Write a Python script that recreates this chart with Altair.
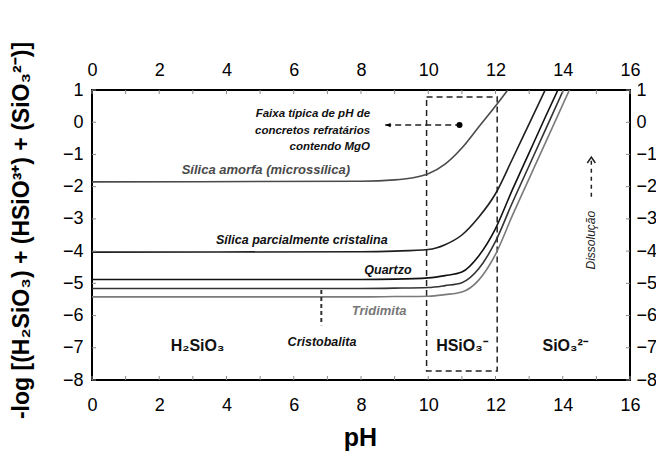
import altair as alt
import pandas as pd

# ---- solubility curves (pH, log concentration) ----
ph_amorfa  = [0, 8, 9, 9.5, 10, 10.5, 11, 11.5, 12, 12.4]
log_amorfa = [-1.85, -1.83, -1.79, -1.73, -1.6, -1.3, -0.8, -0.15, 0.5, 1.05]

ph_parcial  = [0, 8, 9, 10, 10.5, 11, 11.5, 12, 12.5, 13, 13.5]
log_parcial = [-4.03, -4.02, -4.0, -3.95, -3.8, -3.5, -2.95, -2.22, -1.15, -0.05, 1.05]

ph_quartzo  = [0, 8, 9, 10, 10.5, 11, 11.5, 12, 12.5, 13, 13.5, 13.9]
log_quartzo = [-4.88, -4.88, -4.87, -4.83, -4.76, -4.65, -4.15, -3.3, -2.1, -0.95, 0.2, 1.1]

ph_cristo  = [0, 8, 9, 10, 10.5, 11, 11.5, 12, 12.5, 13, 13.5, 14.05]
log_cristo = [-5.16, -5.16, -5.15, -5.13, -5.07, -4.98, -4.55, -3.7, -2.5, -1.35, -0.2, 1.07]

ph_tridi  = [0, 8, 9, 10, 10.5, 11, 11.5, 12, 12.5, 13, 13.5, 14.25]
log_tridi = [-5.42, -5.42, -5.41, -5.4, -5.35, -5.27, -4.9, -4.1, -2.9, -1.75, -0.6, 1.12]

curve_names  = ["amorfa", "parcial", "quartzo", "cristobalita", "tridimita"]
curve_colors = ["#4a4a4a", "#1e1e1e", "#111111", "#333333", "#7a7a7a"]

# ---- annotations ----
label_text = ["Sílica amorfa (microssílica)", "Sílica parcialmente cristalina",
              "Quartzo", "Tridimita", "Cristobalita"]
label_ph   = [5.17, 6.24, 8.8, 8.54, 6.84]
label_log  = [-1.48, -3.66, -4.59, -5.85, -6.81]

species_text = ["H₂SiO₃", "HSiO₃⁻", "SiO₃²⁻"]
species_ph   = [3.14, 11.0, 14.07]
species_log  = [-6.94, -6.94, -6.94]

faixa_text = ["Faixa típica de pH de", "concretos refratários", "contendo MgO"]
faixa_ph   = [8.27, 8.27, 8.27]
faixa_log  = [0.25, -0.27, -0.78]

box_ph  = [9.95, 12.05]
box_log = [-7.72, 0.78]

faixa_arrow_ph  = [8.72, 10.93]
faixa_arrow_log = -0.09

cristo_ptr_ph  = 6.82
cristo_ptr_log = [-5.21, -6.3]

dissol_ph  = 14.85
dissol_log = [-2.31, -1.12]
dissol_text_log = -3.66

x_ticks = list(range(0, 17))
y_ticks = list(range(-8, 2))
x_labels = list(range(0, 17, 2))

FONT = "Liberation Sans"
X = alt.Scale(domain=[0, 16], nice=False, zero=False)
Y = alt.Scale(domain=[-8, 1], nice=False, zero=False)
W, H = 538, 290

rows = []
for name, xs, ys in [("amorfa", ph_amorfa, log_amorfa), ("parcial", ph_parcial, log_parcial),
                     ("quartzo", ph_quartzo, log_quartzo), ("cristobalita", ph_cristo, log_cristo),
                     ("tridimita", ph_tridi, log_tridi)]:
    for a, b in zip(xs, ys):
        rows.append({"curva": name, "pH": a, "logC": b})
df = pd.DataFrame(rows)

common = dict(labelFont=FONT, labelFontSize=18, labelColor="black", ticks=False, tickSize=0,
              domain=False, grid=False, labelFlush=False, labelOverlap=False)

lines = alt.Chart(df).mark_line(clip=True, strokeWidth=1.6, interpolate="monotone").encode(
    x=alt.X("pH:Q", scale=X, axis=alt.Axis(orient="bottom", values=x_labels, format="d",
            labelPadding=16, title="pH", titleFont=FONT, titleFontSize=25, titleFontWeight="bold",
            titleColor="black", titleX=268, titleY=65, titleBaseline="alphabetic", **common)),
    y=alt.Y("logC:Q", scale=Y, axis=alt.Axis(orient="left", values=y_ticks, format="d",
            labelPadding=9, title="-log [(H₂SiO₃) + (HSiO³⁺) + (SiO₃²⁻)]", titleFont=FONT,
            titleFontSize=23, titleFontWeight="bold", titleColor="black", titleAngle=270,
            titleX=-64, titleY=140, titleAlign="center", titleBaseline="alphabetic", **common)),
    color=alt.Color("curva:N", scale=alt.Scale(domain=curve_names, range=curve_colors), legend=None),
)

# inward ticks
xt = pd.DataFrame({"t": x_ticks})
yt = pd.DataFrame({"t": y_ticks})
tick_style = dict(color="#8a8a8a", strokeWidth=1)
top_ticks = alt.Chart(xt).mark_rule(**tick_style).encode(
    x=alt.X("t:Q", scale=X, axis=alt.Axis(orient="top", values=x_labels, format="d", labelPadding=11,
            title=None, **common)),
    y=alt.value(0), y2=alt.value(4))
bot_ticks = alt.Chart(xt).mark_rule(**tick_style).encode(
    x=alt.X("t:Q", scale=X, axis=None), y=alt.value(H), y2=alt.value(H - 4))
left_ticks = alt.Chart(yt).mark_rule(**tick_style).encode(
    y=alt.Y("t:Q", scale=Y, axis=None), x=alt.value(0), x2=alt.value(4))
right_ticks = alt.Chart(yt).mark_rule(**tick_style).encode(
    y=alt.Y("t:Q", scale=Y, axis=alt.Axis(orient="right", values=y_ticks, format="d", labelPadding=6,
            title=None, **common)),
    x=alt.value(W), x2=alt.value(W - 4))

# dashed box
box = alt.Chart(pd.DataFrame({"x1": [box_ph[0]], "x2": [box_ph[1]], "y1": [box_log[0]], "y2": [box_log[1]]})
).mark_rect(fillOpacity=0, stroke="#222222", strokeWidth=1.5, strokeDash=[6, 4]).encode(
    x=alt.X("x1:Q", scale=X, axis=None), x2="x2:Q",
    y=alt.Y("y1:Q", scale=Y, axis=None), y2="y2:Q")

# faixa arrow
fa = pd.DataFrame({"x1": [faixa_arrow_ph[0]], "x2": [faixa_arrow_ph[1]], "y": [faixa_arrow_log]})
fa_line = alt.Chart(fa).mark_rule(color="#222222", strokeWidth=1.5, strokeDash=[6, 4]).encode(
    x=alt.X("x1:Q", scale=X, axis=None), x2="x2:Q", y=alt.Y("y:Q", scale=Y, axis=None))
fa_dot = alt.Chart(fa).mark_point(shape="circle", filled=True, size=36, color="black", opacity=1).encode(
    x=alt.X("x2:Q", scale=X, axis=None), y=alt.Y("y:Q", scale=Y, axis=None))
fa_head = alt.Chart(fa).mark_point(shape="M0,0L2,-0.8L2,0.8Z", filled=True, size=30, color="black",
                                   opacity=1).encode(
    x=alt.X("x1:Q", scale=X, axis=None), y=alt.Y("y:Q", scale=Y, axis=None))

# cristobalita pointer
cp = pd.DataFrame({"x": [cristo_ptr_ph], "y1": [cristo_ptr_log[0]], "y2": [cristo_ptr_log[1]]})
cp_line = alt.Chart(cp).mark_rule(color="#333333", strokeWidth=2, strokeDash=[4, 3]).encode(
    x=alt.X("x:Q", scale=X, axis=None), y=alt.Y("y1:Q", scale=Y, axis=None), y2="y2:Q")

# dissolucao arrow
da = pd.DataFrame({"x": [dissol_ph], "y1": [dissol_log[0]], "y2": [dissol_log[1]], "ytip": [dissol_log[1] + 0.04],
                   "yt": [dissol_text_log], "t": ["Dissolução"]})
da_line = alt.Chart(da).mark_rule(color="#222222", strokeWidth=1.5, strokeDash=[4, 4]).encode(
    x=alt.X("x:Q", scale=X, axis=None), y=alt.Y("y1:Q", scale=Y, axis=None), y2="y2:Q")
da_head = alt.Chart(da).mark_point(shape="M-1,1.5L0,0L1,1.5", filled=False, size=64, color="#222222",
                                   strokeWidth=1.5, opacity=1).encode(
    x=alt.X("x:Q", scale=X, axis=None), y=alt.Y("ytip:Q", scale=Y, axis=None))
da_text = alt.Chart(da).mark_text(font=FONT, fontSize=12, fontStyle="italic", angle=270,
                                  color="#222222", align="center", baseline="middle").encode(
    x=alt.X("x:Q", scale=X, axis=None), y=alt.Y("yt:Q", scale=Y, axis=None), text="t:N")

def text_layer(xs, ys, ts, **kw):
    d = pd.DataFrame({"x": xs, "y": ys, "t": ts})
    return alt.Chart(d).mark_text(font=FONT, **kw).encode(
        x=alt.X("x:Q", scale=X, axis=None), y=alt.Y("y:Q", scale=Y, axis=None), text="t:N")

t_faixa = text_layer(faixa_ph, faixa_log, faixa_text, fontSize=11.5, fontStyle="italic",
                     fontWeight="bold", align="right", baseline="middle", color="#111111")
t_amorfa = text_layer(label_ph[:1], label_log[:1], label_text[:1], fontSize=13, fontStyle="italic",
                      fontWeight="bold", align="center", baseline="middle", color="#4a4a4a")
t_bold = text_layer([label_ph[1], label_ph[2], label_ph[4]], [label_log[1], label_log[2], label_log[4]],
                    [label_text[1], label_text[2], label_text[4]], fontSize=12.5, fontStyle="italic",
                    fontWeight="bold", align="center", baseline="middle", color="#111111")
t_tridi = text_layer(label_ph[3:4], label_log[3:4], label_text[3:4], fontSize=13, fontStyle="italic",
                     fontWeight="bold", align="center", baseline="middle", color="#777777")
t_species = text_layer(species_ph, species_log, species_text, fontSize=16, fontWeight="bold",
                       align="center", baseline="middle", color="#111111")

chart = alt.layer(
    box, lines, top_ticks, bot_ticks, left_ticks, right_ticks,
    fa_line, fa_dot, fa_head, cp_line, da_line, da_head, da_text,
    t_faixa, t_amorfa, t_bold, t_tridi, t_species,
).resolve_axis(x="independent", y="independent").properties(
    width=W, height=H,
    autosize=alt.AutoSizeParams(type="none"),
    padding={"left": 84, "top": 82, "right": 26, "bottom": 72},
).configure_view(stroke="black", strokeWidth=2)

chart.save("out.html", embed_options={"renderer": "svg", "actions": False})
